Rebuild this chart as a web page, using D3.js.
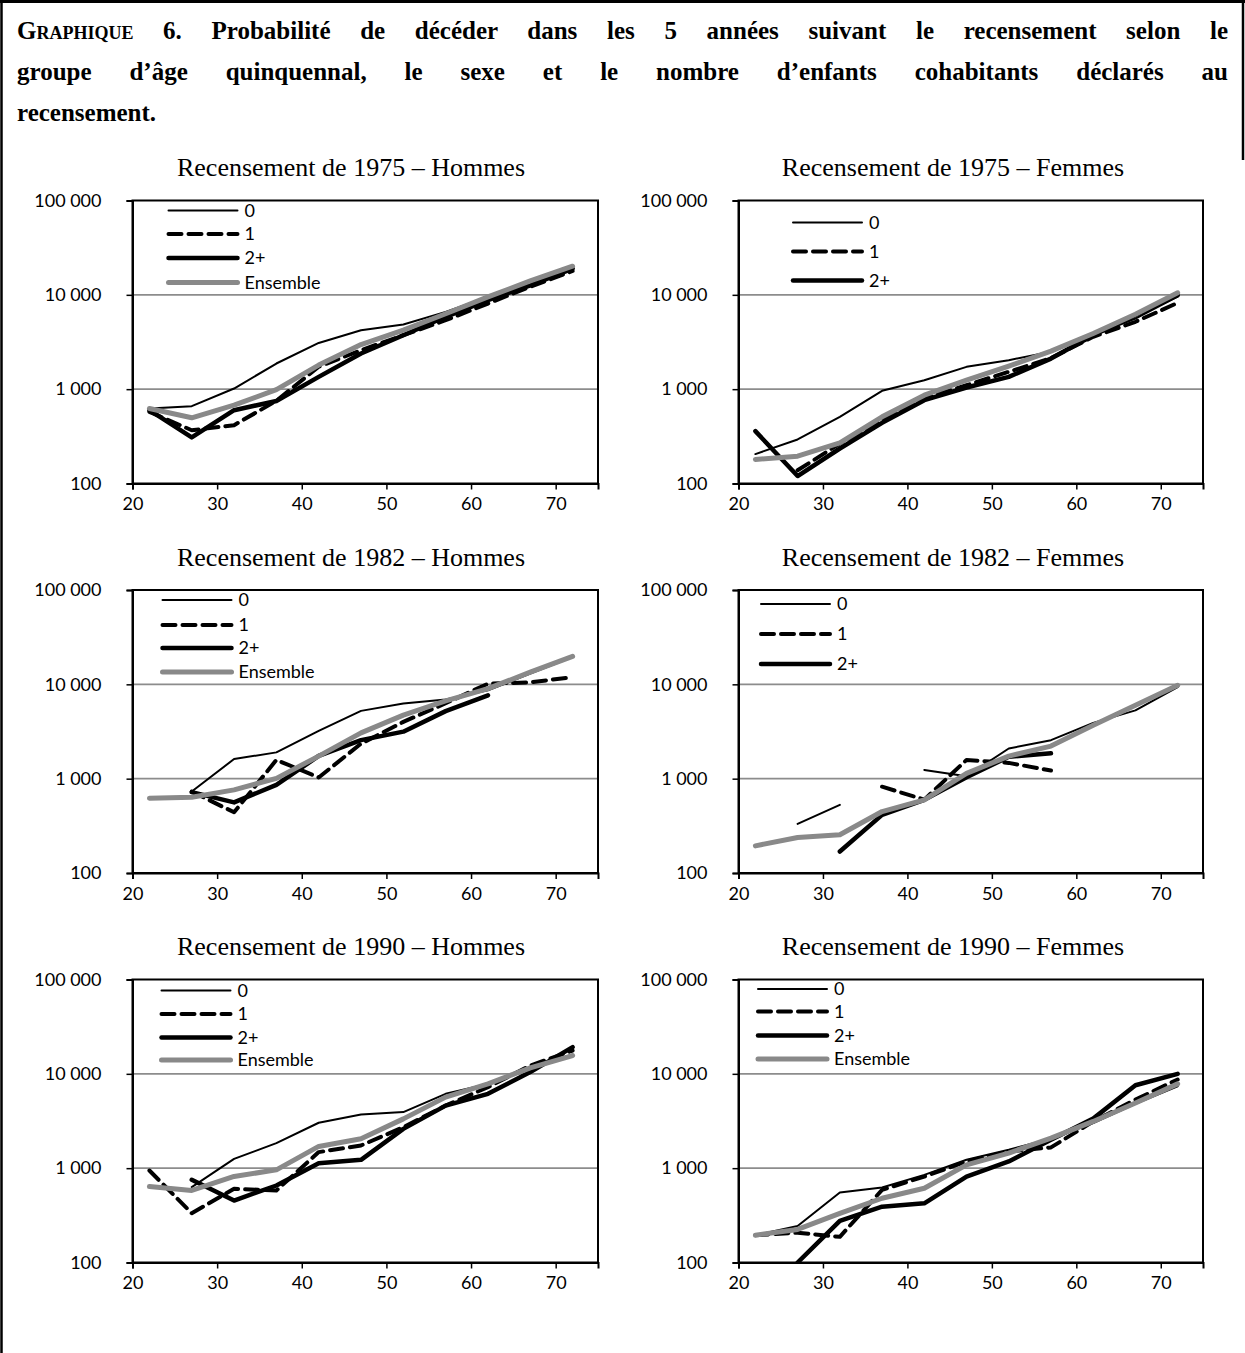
<!DOCTYPE html>
<html>
<head>
<meta charset="utf-8">
<script src="https://cdn.jsdelivr.net/npm/d3@7"></script>
<style>
  body { margin: 0; background: #fff; }
  #wrap { position: relative; width: 1245px; height: 1353px; }
  #chart { position: absolute; left: 0; top: 0; }
  #title { position: absolute; left: 17px; top: 10px; width: 1211px;
           font: bold 25px/41px "Liberation Serif", "Times New Roman", serif; color: #000; }
  #title div { text-align: justify; text-align-last: justify; }
  #title div.last { text-align-last: left; }
  .sc { font-variant: small-caps; }
</style>
</head>
<body>
<div id="wrap">
  <svg id="chart" width="1245" height="1353"></svg>
  <div id="title"></div>
</div>
<script>
(() => {
    // ages (midpoint of each 5-year group)
    const ages = [22, 27, 32, 37, 42, 47, 52, 57, 62, 67, 72];
    const seriesNames = ["0", "1", "2+", "Ensemble"];
    const xTicks = [20, 30, 40, 50, 60, 70];
    const yTicks = [100, 1000, 10000, 100000];

    // 1975 - Hommes
    const h1975_0 = [624, 661, 1016, 1870, 3090, 4220, 4840, 6600, 9500, 13800, 19900];
    const h1975_1 = [575, 367, 415, 752, 1730, 2590, 3730, 5380, 8090, 12200, 17900];
    const h1975_2 = [598, 308, 598, 750, 1350, 2390, 3730, 5850, 8770, 12600, 19000];
    const h1975_e = [624, 497, 676, 990, 1800, 2970, 4220, 6300, 9500, 14070, 20100];
    // 1975 - Femmes
    const f1975_0 = [205, 293, 509, 960, 1245, 1725, 2030, 2490, 3730, 5610, 9560];
    const f1975_1 = [null, 138, 265, 469, 795, 1100, 1527, 2130, 3590, 5180, 8220];
    const f1975_2 = [359, 120, 235, 440, 764, 1042, 1350, 2110, 3730, 6080, 9900];
    const f1975_e = [180, 195, 270, 509, 863, 1245, 1754, 2530, 3890, 6230, 10500];
    // 1982 - Hommes
    const h1982_0 = [null, 730, 1615, 1900, 3210, 5230, 6250, 6890, 8650, 12970, 19450];
    const h1982_1 = [null, 730, 440, 1580, 1030, 2350, 4000, 6300, 10160, 10500, 11900];
    const h1982_2 = [null, 720, 560, 860, 1740, 2560, 3150, 5200, 7650, null, null];
    const h1982_e = [620, 635, 760, 1008, 1734, 3060, 4710, 6670, 8990, 13490, 19760];
    // 1982 - Femmes
    const f1982_0 = [null, 332, 527, null, 1235, 1060, 2090, 2560, 3900, 5300, 9340];
    const f1982_1 = [null, null, null, 822, 600, 1580, 1470, 1220, null, null, null];
    const f1982_2 = [null, null, 169, 413, 596, 1033, 1706, 1855, null, null, null];
    const f1982_e = [194, 238, 254, 448, 596, 1138, 1734, 2214, 3690, 6000, 9760];
    // 1990 - Hommes
    const h1990_0 = [null, 630, 1256, 1840, 3030, 3710, 3930, 6140, 7830, 11780, 16030];
    const h1990_1 = [944, 333, 604, 580, 1480, 1740, 2720, 4620, 7230, 12250, 17660];
    const h1990_2 = [null, 752, 454, 655, 1130, 1225, 2610, 4600, 6140, 10430, 19190];
    const h1990_e = [640, 580, 816, 960, 1700, 2050, 3330, 5660, 7830, 11590, 15630];
    // 1990 - Femmes
    const f1990_0 = [195, 244, 551, 623, 849, 1228, 1567, 2050, 3010, 4800, 7390];
    const f1990_1 = [195, 207, 187, 589, 815, 1177, 1503, 1660, 3130, 5330, 8710];
    const f1990_2 = [null, 100, 276, 391, 424, 815, 1178, 2000, 3350, 7570, 10000];
    const f1990_e = [195, 224, 332, 480, 612, 1084, 1445, 2084, 3130, 4910, 7830];

    const titleLines = [
        '<span class="sc">Graphique</span> 6. Probabilité de décéder dans les 5 années suivant le recensement selon le',
        'groupe d’âge quinquennal, le sexe et le nombre d’enfants cohabitants déclarés au',
        'recensement.'
    ];

    const panels = [
        { title: "Recensement de 1975 – Hommes", series: [h1975_0, h1975_1, h1975_2, h1975_e], legendN: 4 },
        { title: "Recensement de 1975 – Femmes", series: [f1975_0, f1975_1, f1975_2, f1975_e], legendN: 3 },
        { title: "Recensement de 1982 – Hommes", series: [h1982_0, h1982_1, h1982_2, h1982_e], legendN: 4 },
        { title: "Recensement de 1982 – Femmes", series: [f1982_0, f1982_1, f1982_2, f1982_e], legendN: 3 },
        { title: "Recensement de 1990 – Hommes", series: [h1990_0, h1990_1, h1990_2, h1990_e], legendN: 4 },
        { title: "Recensement de 1990 – Femmes", series: [f1990_0, f1990_1, f1990_2, f1990_e], legendN: 4 }
    ];

    // layout
    const cols = [{ x0: 132.5, x1: 598 }, { x0: 738.5, x1: 1203 }];
    const rowTops = [200.5, 590, 979.5];
    const plotH = 283;
    const legendPos = [
        { dx: 36, ys: [10, 33.5, 57.5, 82] },
        { dx: 54.5, ys: [22, 51, 80] },
        { dx: 30, ys: [10, 35, 58, 82] },
        { dx: 22.5, ys: [14, 44, 74] },
        { dx: 29, ys: [11, 34.5, 58, 80.5] },
        { dx: 19.5, ys: [9.5, 32, 56, 79.5] }
    ];
    const styles = [
        { stroke: "#000", width: 2, dash: null },
        { stroke: "#000", width: 4, dash: "13 7" },
        { stroke: "#000", width: 4.5, dash: null },
        { stroke: "#898989", width: 5, dash: null }
    ];
    const tickFont = "Lato, 'Open Sans', sans-serif";
    const fmt = v => d3.format(",")(v).replace(/,/g, " ");

    // title (justified like the source document)
    d3.select("#title").selectAll("div")
        .data(titleLines)
        .enter().append("div")
        .attr("class", (d, i) => i === titleLines.length - 1 ? "last" : null)
        .html(d => d);

    const svg = d3.select("#chart");

    // document frame
    svg.append("line").attr("x1", 1.5).attr("x2", 1.5).attr("y1", 0).attr("y2", 1353)
        .attr("stroke", "#000").attr("stroke-width", 2.5);
    svg.append("line").attr("x1", 0).attr("x2", 1245).attr("y1", 1.5).attr("y2", 1.5)
        .attr("stroke", "#000").attr("stroke-width", 3);
    svg.append("line").attr("x1", 1243).attr("x2", 1243).attr("y1", 0).attr("y2", 160)
        .attr("stroke", "#000").attr("stroke-width", 2.5);

    panels.forEach((p, i) => {
        const col = cols[i % 2];
        const top = rowTops[Math.floor(i / 2)];
        const bottom = top + plotH;

        const x = d3.scaleLinear().domain([20, 75]).range([col.x0, col.x1]);
        const y = d3.scaleLog().domain([100, 100000]).range([bottom, top]);

        const g = svg.append("g");

        // gridlines
        g.selectAll("line.grid")
            .data([1000, 10000])
            .enter().append("line")
            .attr("x1", col.x0).attr("x2", col.x1)
            .attr("y1", d => y(d)).attr("y2", d => y(d))
            .attr("stroke", "#8c8c8c").attr("stroke-width", 1.6);

        // series lines
        const clipId = "clip" + i;
        g.append("clipPath").attr("id", clipId).append("rect")
            .attr("x", col.x0).attr("y", top).attr("width", col.x1 - col.x0).attr("height", plotH);

        const line = d3.line()
            .defined(d => d.v != null)
            .x(d => x(d.age))
            .y(d => y(d.v));

        p.series.forEach((vals, s) => {
            const pts = ages.map((a, k) => ({ age: a, v: vals[k] }));
            g.append("path")
                .attr("clip-path", `url(#${clipId})`)
                .attr("d", line(pts))
                .attr("fill", "none")
                .attr("stroke", styles[s].stroke)
                .attr("stroke-width", styles[s].width)
                .attr("stroke-dasharray", styles[s].dash)
                .attr("stroke-linejoin", "round")
                .attr("stroke-linecap", "round");
        });

        // plot frame
        g.append("rect")
            .attr("x", col.x0).attr("y", top)
            .attr("width", col.x1 - col.x0).attr("height", plotH)
            .attr("fill", "none").attr("stroke", "#000").attr("stroke-width", 2);

        // axes
        g.append("g")
            .attr("transform", `translate(0,${bottom})`)
            .call(d3.axisBottom(x).tickValues(xTicks).tickSize(6).tickPadding(8).tickFormat(d3.format("d")))
            .call(a => a.select(".domain").attr("stroke-width", 2))
            .call(a => a.selectAll(".tick line").attr("stroke-width", 1.5))
            .call(a => a.selectAll("text").attr("font-family", tickFont).attr("font-size", 18).attr("fill", "#000"));

        g.append("g")
            .attr("transform", `translate(${col.x0},0)`)
            .call(d3.axisLeft(y).tickValues(yTicks).tickSize(6).tickPadding(25).tickFormat(fmt))
            .call(a => a.select(".domain").attr("stroke-width", 2))
            .call(a => a.selectAll(".tick line").attr("stroke-width", 1.5))
            .call(a => a.selectAll("text").attr("font-family", tickFont).attr("font-size", 18).attr("fill", "#000"));

        // panel title
        g.append("text")
            .attr("x", col.x0 + (i % 2 === 0 ? 218.5 : 214.5))
            .attr("y", top - 24.5)
            .attr("text-anchor", "middle")
            .attr("font-family", "'Liberation Serif', 'Times New Roman', serif")
            .attr("font-size", 26)
            .text(p.title);

        // legend
        const lp = legendPos[i];
        const items = d3.range(p.legendN);
        const lg = g.append("g");
        lg.selectAll("line")
            .data(items)
            .enter().append("line")
            .attr("x1", col.x0 + lp.dx).attr("x2", col.x0 + lp.dx + 69)
            .attr("y1", (d, k) => top + lp.ys[k]).attr("y2", (d, k) => top + lp.ys[k])
            .attr("stroke", d => styles[d].stroke)
            .attr("stroke-width", d => styles[d].width)
            .attr("stroke-dasharray", d => styles[d].dash)
            .attr("stroke-linecap", "round");
        lg.selectAll("text")
            .data(items)
            .enter().append("text")
            .attr("x", col.x0 + lp.dx + 76)
            .attr("y", (d, k) => top + lp.ys[k])
            .attr("dy", "0.36em")
            .attr("font-family", tickFont)
            .attr("font-size", 18)
            .text(d => seriesNames[d]);
    });
})();
</script>
</body>
</html>
